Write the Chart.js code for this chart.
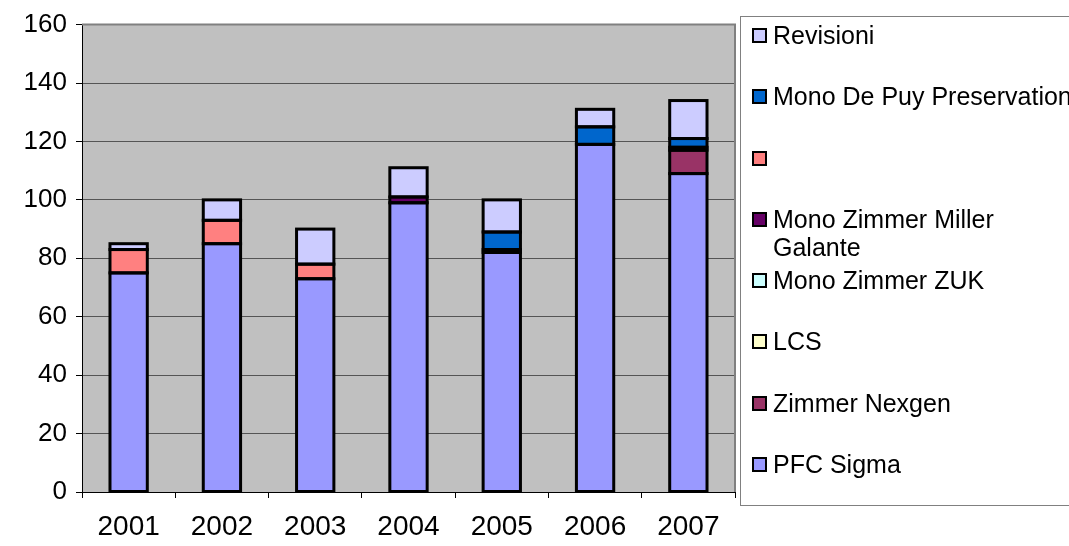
<!DOCTYPE html>
<html>
<head>
<meta charset="utf-8">
<script src="https://cdn.jsdelivr.net/npm/chart.js@4.4.1/dist/chart.umd.min.js"></script>
<style>
  html, body { margin: 0; padding: 0; background: #ffffff; }
  #wrap { position: relative; width: 1069px; height: 546px; overflow: hidden; font-family: "Liberation Sans", Arial, sans-serif; }
  #c { position: absolute; left: 0; top: 0; }
  #legend { position: absolute; left: 740px; top: 16px; width: 360px; height: 490px; border: 1px solid #808080; box-sizing: border-box; padding-top: 4px; }
  .item { height: 61.3px; display: flex; align-items: flex-start; }
  .mk { width: 11px; height: 11px; border: 2px solid #000; margin-left: 11px; margin-top: 7px; flex: none; }
  .tx { margin-left: 6px; width: 305px; font-size: 25px; line-height: 28px; color: #000; }
</style>
</head>
<body>
<div id="wrap">
  <canvas id="c" width="1069" height="546"></canvas>
  <div id="legend"></div>
</div>
<script>
const categories = ['2001', '2002', '2003', '2004', '2005', '2006', '2007'];
const yTicks = [0, 20, 40, 60, 80, 100, 120, 140, 160];

const pfcSigma        = [75, 85, 73, 99, 82, 119, 109];
const zimmerNexgen    = [null, null, null, null, null, null, 8];
const lcs             = [null, null, null, null, null, null, null];
const monoZimmerZUK   = [null, null, null, null, null, null, null];
const monoMillerGal   = [null, null, null, 2, 1, null, 1];
const unnamed         = [8, 8, 5, null, null, null, null];
const monoDePuy       = [null, null, null, null, 6, 6, 3];
const revisioni       = [2, 7, 12, 10, 11, 6, 13];

const seriesNames  = ['PFC Sigma', 'Zimmer Nexgen', 'LCS', 'Mono Zimmer ZUK', 'Mono Zimmer Miller Galante', '', 'Mono De Puy Preservation', 'Revisioni'];
const seriesData   = [pfcSigma, zimmerNexgen, lcs, monoZimmerZUK, monoMillerGal, unnamed, monoDePuy, revisioni];
const seriesColors = ['#9999FF', '#993366', '#FFFFCC', '#CCFFFF', '#660066', '#FF8080', '#0066CC', '#CCCCFF'];

const datasets = seriesNames.map((name, i) => ({
  label: name,
  data: seriesData[i],
  backgroundColor: seriesColors[i],
  borderWidth: 0,
  inflateAmount: 0,
  barPercentage: 0.40,
  categoryPercentage: 1.0
}));

const plotBg = {
  id: 'plotBg',
  beforeDraw(chart) {
    const a = chart.chartArea, ctx = chart.ctx;
    ctx.save();
    ctx.fillStyle = '#C0C0C0';
    ctx.fillRect(a.left, a.top, a.right - a.left, a.bottom - a.top);
    ctx.restore();
  },
  afterDatasetsDraw(chart) {
    // Excel-style outlines: centred on each segment's edges
    const ctx = chart.ctx;
    ctx.save();
    ctx.strokeStyle = '#000';
    ctx.lineWidth = 3;
    chart.data.datasets.forEach((ds, i) => {
      chart.getDatasetMeta(i).data.forEach((bar, j) => {
        if (ds.data[j] == null) return;
        const p = bar.getProps(['x', 'y', 'base', 'width'], true);
        ctx.strokeRect(p.x - p.width / 2, p.y, p.width, p.base - p.y);
      });
    });
    ctx.restore();
  },
  afterDraw(chart) {
    const a = chart.chartArea, ctx = chart.ctx;
    ctx.save();
    ctx.strokeStyle = '#808080';
    ctx.lineWidth = 2;
    ctx.beginPath();
    ctx.moveTo(a.left, a.top);
    ctx.lineTo(a.right, a.top);
    ctx.lineTo(a.right, a.bottom);
    ctx.stroke();
    ctx.restore();
  }
};

const chart = new Chart(document.getElementById('c'), {
  type: 'bar',
  data: { labels: categories, datasets },
  options: {
    responsive: false,
    animation: false,
    layout: { padding: { left: 0, right: 334, top: 21, bottom: 0 } },
    plugins: { legend: { display: false }, tooltip: { enabled: false } },
    scales: {
      x: {
        stacked: true,
        afterFit(s) { s.height = 54; },
        grid: { drawOnChartArea: false, offset: true, tickLength: 6, tickColor: '#000', tickWidth: 1 },
        border: { color: '#000', width: 1 },
        ticks: { color: '#000', font: { family: 'Liberation Sans', size: 28 }, padding: 12, maxRotation: 0 }
      },
      y: {
        stacked: true,
        min: 0, max: 160,
        afterFit(s) { s.width = 82; },
        afterBuildTicks(s) { s.ticks = yTicks.map(v => ({ value: v })); },
        grid: { color: '#555555', lineWidth: 1, tickLength: 6, tickColor: '#000' },
        border: { color: '#000', width: 1 },
        ticks: { color: '#000', font: { family: 'Liberation Sans', size: 26 }, padding: 9 }
      }
    }
  },
  plugins: [plotBg]
});

// HTML legend built from the chart's datasets (reversed, as in the reference)
const legendEl = document.getElementById('legend');
chart.data.datasets.slice().reverse().forEach(ds => {
  const item = document.createElement('div');
  item.className = 'item';
  const mk = document.createElement('div');
  mk.className = 'mk';
  mk.style.background = ds.backgroundColor;
  const tx = document.createElement('div');
  tx.className = 'tx';
  tx.textContent = ds.label;
  item.appendChild(mk);
  item.appendChild(tx);
  legendEl.appendChild(item);
});
</script>
</body>
</html>
